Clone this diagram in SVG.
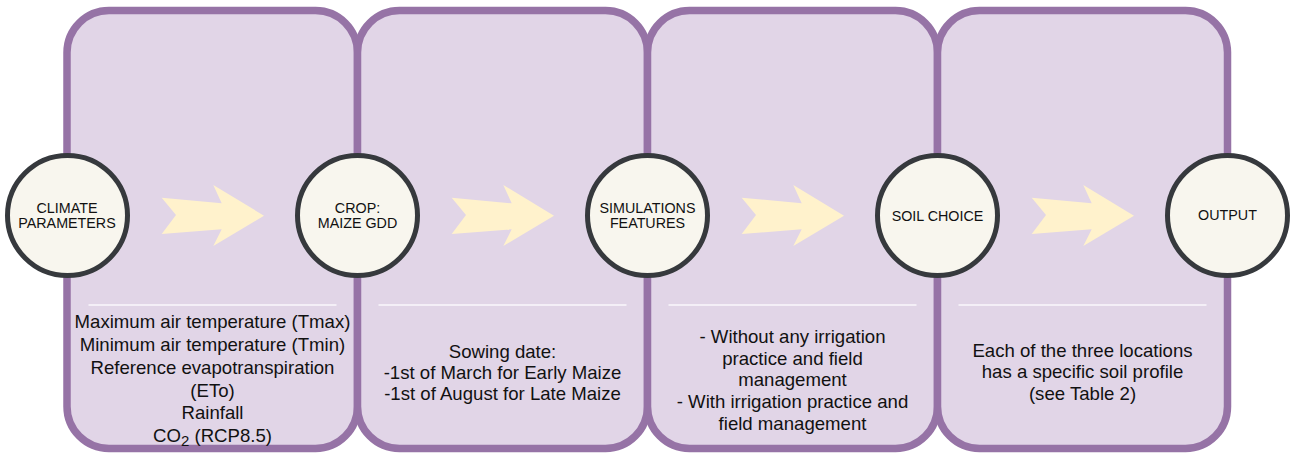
<svg xmlns="http://www.w3.org/2000/svg" width="1292" height="454" viewBox="0 0 1292 454">
<style>
.box{fill:#e1d5e7;stroke:#9673a6;stroke-width:7.5}
.sep{stroke:#f4eff7;stroke-width:2}
.circ{fill:#f8f6ee;stroke:#36393d;stroke-width:5}
.arr{fill:#fff2cc}
.t{font-family:"Liberation Sans",Arial,Helvetica,sans-serif;font-size:18.6px;fill:#111;text-anchor:middle}
.c{font-family:"Liberation Sans",Arial,Helvetica,sans-serif;font-size:14.3px;fill:#111;text-anchor:middle}
</style>
<defs>
<polygon id="arrow" points="0,0 60,5.6 51.6,-12.7 102.3,18 51.6,48.3 60,31.6 0,36.3 14.3,17.3"/>
</defs>
<g id="panel-1">
<rect class="box" x="67" y="10.5" width="290.5" height="438" rx="42" ry="42"/>
<line class="sep" x1="88.5" y1="305" x2="336.5" y2="305"/>
<text class="t"><tspan x="212.5" y="328">Maximum air temperature (Tmax)</tspan><tspan x="212.5" y="351">Minimum air temperature (Tmin)</tspan><tspan x="212.5" y="374">Reference evapotranspiration</tspan><tspan x="212.5" y="396.5">(ETo)</tspan><tspan x="212.5" y="419">Rainfall</tspan><tspan x="212.5" y="442">CO<tspan font-size="15" dy="4">2</tspan><tspan dy="-4"> (RCP8.5)</tspan></tspan></text>
</g>
<g id="panel-2">
<rect class="box" x="357.5" y="10.5" width="290" height="438" rx="42" ry="42"/>
<line class="sep" x1="378.5" y1="305" x2="626.5" y2="305"/>
<text class="t"><tspan x="502.5" y="357.5">Sowing date:</tspan><tspan x="502.5" y="378.5">-1st of March for Early Maize</tspan><tspan x="502.5" y="400">-1st of August for Late Maize</tspan></text>
</g>
<g id="panel-3">
<rect class="box" x="647.5" y="10.5" width="290" height="438" rx="42" ry="42"/>
<line class="sep" x1="668.5" y1="305" x2="916.5" y2="305"/>
<text class="t"><tspan x="792.5" y="343">- Without any irrigation</tspan><tspan x="792.5" y="364.7">practice and field</tspan><tspan x="792.5" y="386.4">management</tspan><tspan x="792.5" y="408.1">- With irrigation practice and</tspan><tspan x="792.5" y="429.8">field management</tspan></text>
</g>
<g id="panel-4">
<rect class="box" x="937.5" y="10.5" width="290" height="438" rx="42" ry="42"/>
<line class="sep" x1="958.5" y1="305" x2="1206.5" y2="305"/>
<text class="t"><tspan x="1082.5" y="356.5">Each of the three locations</tspan><tspan x="1082.5" y="378.2">has a specific soil profile</tspan><tspan x="1082.5" y="399.9">(see Table 2)</tspan></text>
</g>
<g id="connectors">
<use href="#arrow" class="arr" x="161.7" y="197.7"/>
<use href="#arrow" class="arr" x="451.7" y="197.7"/>
<use href="#arrow" class="arr" x="741.7" y="197.7"/>
<use href="#arrow" class="arr" x="1031.7" y="197.7"/>
</g>
<g id="climate-parameters">
<circle class="circ" cx="67.5" cy="215.5" r="60"/>
<text class="c"><tspan x="67" y="212.8">CLIMATE</tspan><tspan x="67" y="228.4">PARAMETERS</tspan></text>
</g>
<g id="crop-maize-gdd">
<circle class="circ" cx="357.5" cy="215.5" r="60"/>
<text class="c"><tspan x="357.5" y="212.8">CROP:</tspan><tspan x="357.5" y="228.4">MAIZE GDD</tspan></text>
</g>
<g id="simulations-features">
<circle class="circ" cx="647.5" cy="215.5" r="60"/>
<text class="c"><tspan x="647.5" y="212.8">SIMULATIONS</tspan><tspan x="647.5" y="228.4">FEATURES</tspan></text>
</g>
<g id="soil-choice">
<circle class="circ" cx="937.5" cy="215.5" r="60"/>
<text class="c"><tspan x="937.5" y="220.8">SOIL CHOICE</tspan></text>
</g>
<g id="output">
<circle class="circ" cx="1227.5" cy="215.5" r="60"/>
<text class="c"><tspan x="1227.5" y="220.3">OUTPUT</tspan></text>
</g>
</svg>
